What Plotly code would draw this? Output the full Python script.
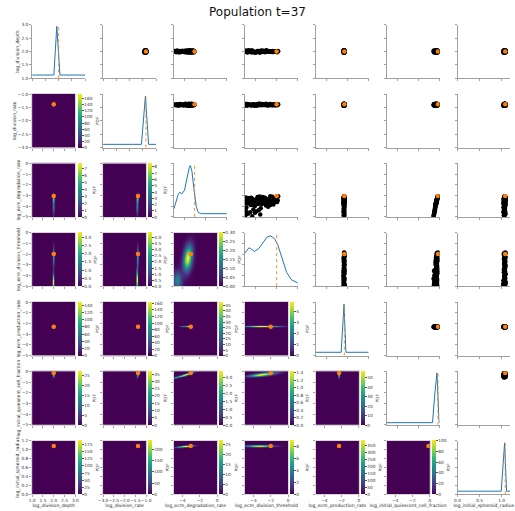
import numpy as np
import plotly.graph_objects as go

PARAMS = ["log_division_depth", "log_division_rate", "log_ecm_degradation_rate",
          "log_ecm_division_threshold", "log_ecm_production_rate",
          "log_initial_quiescent_cell_fraction", "log_initial_spheroid_radius"]
RANGES = [[1.0, 3.0], [-3.0, -1.0], [-5.0, 0.0], [-5.0, 0.0], [-5.0, 0.0], [-5.0, 0.0], [0.0, 1.2]]
TRUE_VALUES = [2.0, -1.38, -3.05, -2.0, -2.3, -0.15, 1.08]
X_TICKS = [[1.0, 1.5, 2.0, 2.5, 3.0], [-3.0, -2.5, -2.0, -1.5, -1.0], [-4, -2, 0], [-4, -2, 0],
           [-4, -2, 0], [-4, -2, 0], [0.0, 0.5, 1.0]]
Y_TICKS = [[1.0, 1.5, 2.0, 2.5, 3.0], [-3.0, -2.5, -2.0, -1.5, -1.0], [-5, -4, -3, -2, -1, 0],
           [-5, -4, -3, -2, -1, 0], [-5, -4, -3, -2, -1, 0], [-5, -4, -3, -2, -1, 0],
           [0.0, 0.2, 0.4, 0.6, 0.8, 1.0, 1.2]]
TICK_FMT = [".1f", ".1f", "d", "d", "d", "d", ".1f"]

# particles of the population (one entry per particle)
DEPTH = [2.01, 1.98, 2.03, 1.97, 2.0, 2.04, 1.99, 1.96, 2.02, 2.0, 1.98, 2.05, 2.01, 1.97, 2.03, 1.99, 2.0, 1.96, 2.02, 1.98,
         2.04, 2.0, 1.97, 2.01, 1.99, 2.03, 1.98, 2.0, 2.02, 1.96, 2.01, 1.99, 2.04, 1.97, 2.0, 2.02, 1.98, 2.01, 1.99, 2.03,
         1.99, 2.02, 1.97, 2.01, 2.03, 1.98, 2.0, 1.96, 2.02, 1.99, 2.04, 1.98, 2.01, 1.97, 2.0, 2.03, 1.99, 2.02, 1.98, 2.0,
         2.01, 1.97, 2.03, 1.99]
RATE = [-1.39, -1.42, -1.37, -1.41, -1.38, -1.43, -1.4, -1.36, -1.41, -1.39, -1.44, -1.38, -1.4, -1.42, -1.37, -1.41, -1.39, -1.43, -1.38, -1.4,
        -1.42, -1.36, -1.41, -1.39, -1.43, -1.4, -1.38, -1.42, -1.37, -1.41, -1.4, -1.44, -1.39, -1.38, -1.42, -1.4, -1.37, -1.41, -1.43, -1.39,
        -1.4, -1.38, -1.42, -1.39, -1.41, -1.37, -1.43, -1.4, -1.38, -1.41, -1.39, -1.42, -1.36, -1.4, -1.43, -1.38, -1.41, -1.39, -1.42, -1.4,
        -1.37, -1.41, -1.39, -1.38]
DEGRADATION = [-3.06, -3.12, -3.18, -3.22, -3.27, -3.31, -3.35, -3.38, -3.42, -3.46, -3.5, -3.53, -3.57, -3.6, -3.64, -3.68, -3.71, -3.75, -3.8, -3.84,
               -3.88, -3.93, -3.98, -4.05, -4.12, -4.2, -4.3, -4.38, -4.45, -4.5, -4.56, -4.62, -4.7, -4.78, -4.85, -4.93, -3.3, -3.45, -3.62, -3.15,
               -3.08, -3.14, -3.2, -3.25, -3.29, -3.33, -3.37, -3.41, -3.44, -3.48, -3.52, -3.55, -3.59, -3.63, -3.66, -3.7, -3.73, -3.77, -3.82, -3.86,
               -3.9, -3.1, -3.24, -3.4]
THRESHOLD = [-1.85, -2.4, -4.9, -3.1, -2.05, -4.3, -2.7, -3.6, -4.95, -2.2, -3.9, -2.95, -4.6, -1.95, -3.35, -4.15, -2.55, -4.75, -3.75, -2.3,
             -4.45, -3.0, -4.05, -2.8, -4.85, -3.5, -4.2, -3.7, -4.9, -3.95, -4.5, -4.05, -4.7, -3.55, -4.95, -4.3, -3.85, -4.5, -2.15, -3.3,
             -2.6, -3.8, -4.4, -2.25, -3.45, -4.8, -2.9, -4.1, -1.9, -3.2, -4.65, -2.45, -3.65, -4.35, -2.75, -3.05, -4.9, -2.35, -3.4, -4.25,
             -2.6, -3.6, -4.6, -2.05]
PRODUCTION = [-2.31, -2.35, -2.29, -2.34, -2.32, -2.37, -2.3, -2.33, -2.36, -2.28, -2.34, -2.31, -2.35, -2.3, -2.33, -2.37, -2.29, -2.32, -2.36, -2.31,
              -2.34, -2.3, -2.35, -2.33, -2.28, -2.36, -2.32, -2.34, -2.3, -2.37, -2.31, -2.35, -2.33, -2.29, -2.36, -2.32, -2.3, -2.34, -2.31, -2.35,
              -2.32, -2.3, -2.35, -2.33, -2.29, -2.36, -2.31, -2.34, -2.32, -2.3, -2.35, -2.33, -2.37, -2.31, -2.34, -2.32, -2.29, -2.36, -2.33, -2.31,
              -2.35, -2.3, -2.34, -2.32]
QUIESCENT = [-0.14, -0.18, -0.2, -0.22, -0.2, -0.25, -0.23, -0.27, -0.26, -0.24, -0.3, -0.28, -0.31, -0.27, -0.33, -0.32, -0.3, -0.36, -0.35, -0.33,
             -0.38, -0.37, -0.4, -0.39, -0.42, -0.43, -0.45, -0.44, -0.48, -0.47, -0.5, -0.49, -0.52, -0.53, -0.55, -0.57, -0.22, -0.29, -0.3, -0.19,
             -0.16, -0.19, -0.21, -0.2, -0.23, -0.25, -0.24, -0.27, -0.25, -0.28, -0.3, -0.28, -0.31, -0.32, -0.31, -0.33, -0.35, -0.34, -0.36, -0.37,
             -0.37, -0.17, -0.22, -0.26]
RADIUS = [1.08, 1.06, 1.07, 1.09, 1.05, 1.07, 1.08, 1.06, 1.04, 1.07, 1.09, 1.06, 1.08, 1.05, 1.07, 1.06, 1.08, 1.04, 1.07, 1.09,
          1.05, 1.07, 1.06, 1.08, 1.04, 1.07, 1.06, 1.05, 1.08, 1.07, 1.04, 1.06, 1.09, 1.07, 1.05, 1.06, 1.08, 1.07, 1.06, 1.08,
          1.07, 1.08, 1.06, 1.07, 1.05, 1.08, 1.06, 1.07, 1.09, 1.06, 1.07, 1.05, 1.08, 1.07, 1.06, 1.08, 1.05, 1.07, 1.06, 1.08,
          1.07, 1.06, 1.09, 1.07]
PARTICLES = [DEPTH, RATE, DEGRADATION, THRESHOLD, PRODUCTION, QUIESCENT, RADIUS]

# 1D marginal densities (relative height)
DIAG_X = [
    [1.0, 1.82, 1.93, 2.05, 3.0],
    [-3.0, -1.55, -1.40, -1.28, -1.0],
    [-5.0, -4.8, -4.6, -4.45, -4.25, -4.0, -3.75, -3.55, -3.45, -3.3, -3.1, -2.9, -2.7, -2.4, 0.0],
    [-5.0, -4.6, -4.3, -4.1, -3.7, -3.3, -2.9, -2.57, -2.2, -1.9, -1.5, -1.06, -0.6, -0.15, 0.0],
    [-5.0, -2.6, -2.33, -2.15, 0.0],
    [-5.0, -0.67, -0.46, -0.25, -0.06, 0.0],
    [0.0, 0.99, 1.067, 1.11, 1.2],
]
DIAG_Y = [
    [0.06, 0.06, 0.97, 0.06, 0.06],
    [0.06, 0.06, 0.96, 0.06, 0.06],
    [0.15, 0.3, 0.42, 0.46, 0.43, 0.5, 0.75, 0.93, 0.96, 0.85, 0.5, 0.2, 0.08, 0.06, 0.06],
    [0.62, 0.72, 0.68, 0.65, 0.7, 0.82, 0.92, 0.94, 0.89, 0.78, 0.52, 0.26, 0.12, 0.07, 0.06],
    [0.06, 0.06, 0.96, 0.06, 0.06],
    [0.04, 0.04, 0.56, 0.97, 0.09, 0.04],
    [0.055, 0.055, 0.96, 0.055, 0.055],
]

# 2D density panels: (row, col) -> gaussian blobs (cx, cy, sx, sy, rho, weight)
HM_CELLS = [(1, 0), (2, 0), (2, 1), (3, 0), (3, 1), (3, 2), (4, 0), (4, 1), (4, 2), (4, 3),
            (5, 0), (5, 1), (5, 2), (5, 3), (5, 4), (6, 0), (6, 1), (6, 2), (6, 3), (6, 4), (6, 5)]
HM_BLOBS = [
    [(1.99, -1.41, 0.03, 0.03, 0.0, 1.0)],
    [(1.99, -3.3, 0.025, 0.25, 0.0, 1.0), (1.99, -4.0, 0.03, 0.5, 0.0, 0.55)],
    [(-1.40, -3.3, 0.025, 0.25, 0.0, 1.0), (-1.42, -4.0, 0.03, 0.5, 0.0, 0.55)],
    [(1.99, -2.3, 0.025, 0.6, 0.0, 0.6), (1.98, -4.6, 0.025, 0.5, 0.0, 1.0)],
    [(-1.40, -2.3, 0.025, 0.6, 0.0, 0.7), (-1.43, -4.4, 0.025, 0.6, 0.0, 1.0)],
    [(-3.4, -2.4, 0.35, 0.8, 0.3, 1.0), (-4.6, -4.5, 0.35, 0.6, 0.0, 0.45)],
    [(1.99, -2.3, 0.03, 0.06, 0.0, 1.0)],
    [(-1.40, -2.3, 0.03, 0.06, 0.0, 1.0)],
    [(-3.3, -2.3, 0.2, 0.04, 0.0, 1.0), (-3.9, -2.3, 0.25, 0.04, 0.0, 0.4)],
    [(-3.0, -2.3, 1.3, 0.045, 0.0, 1.0)],
    [(1.99, -0.3, 0.025, 0.18, 0.0, 1.0)],
    [(-1.39, -0.3, 0.03, 0.18, 0.6, 1.0)],
    [(-3.6, -0.3, 0.5, 0.15, 0.9, 1.0), (-4.6, -0.55, 0.4, 0.12, 0.8, 0.5)],
    [(-3.0, -0.3, 1.0, 0.14, 0.7, 1.0)],
    [(-2.33, -0.3, 0.05, 0.2, 0.0, 1.0)],
    [(1.99, 1.075, 0.03, 0.015, 0.0, 1.0)],
    [(-1.40, 1.075, 0.03, 0.015, 0.0, 1.0)],
    [(-3.5, 1.07, 0.5, 0.015, 0.5, 1.0), (-4.3, 1.055, 0.4, 0.015, 0.5, 0.4)],
    [(-3.3, 1.075, 1.0, 0.015, 0.0, 1.0)],
    [(-2.33, 1.075, 0.04, 0.015, 0.0, 1.0)],
    [(-0.25, 1.075, 0.08, 0.015, 0.5, 1.0)],
]
HM_ZMAX = [175, 7.7, 8.6, 3.3, 4.4, 0.30, 150, 165, 48, 4.9, 27, 37, 3.4, 1.45, 57, 190, 240, 27, 9, 390, 100]
HM_DTICK = [20, 1, 1, 0.5, 0.5, 0.05, 20, 20, 5, 1, 5, 5, 0.5, 0.2, 10, 25, 50, 5, 2, 50, 20]

# ---------------- layout geometry (pixels) ----------------
W, H = 515, 511
N = 7
COL_L0, COL_STEP, PANEL_W, HEAT_W = 27.7, 72.3, 54.0, 44.0
ROW_T0, ROW_STEP, PANEL_H = 23.0, 70.0, 54.0
AX_COLOR = "#a0a0a0"
TICK_FONT = dict(family="DejaVu Sans", size=4.3, color="#333")
TITLE_FONT = dict(family="DejaVu Sans", size=4.6, color="#222")
BLUE, ORANGE = "#1f77b4", "#ff7f0e"

fig = go.Figure()
layout = {}


def aid(i, j):
    return i * N + j + 1


def name(prefix, k):
    return prefix if k == 1 else f"{prefix}{k}"


hm_lookup = {c: n for n, c in enumerate(HM_CELLS)}

for i in range(N):
    for j in range(N):
        k = aid(i, j)
        xa, ya = name("x", k), name("y", k)
        left = COL_L0 + COL_STEP * j
        is_heat = (i, j) in hm_lookup
        width = HEAT_W if is_heat else PANEL_W
        right = min(left + width, W)
        xr = list(RANGES[j])
        if left + width > W:
            xr[1] = xr[0] + (xr[1] - xr[0]) * (W - left) / width
        top = ROW_T0 + ROW_STEP * i
        dom_x = [left / W, right / W]
        dom_y = [1 - (top + PANEL_H) / H, 1 - top / H]

        xaxis = dict(domain=dom_x, anchor=ya, range=xr, tickvals=X_TICKS[j], tickformat=TICK_FMT[j],
                     showticklabels=(i == N - 1), ticks="outside", ticklen=2, tickwidth=0.8,
                     tickcolor=AX_COLOR, showline=True, linecolor=AX_COLOR, linewidth=1,
                     showgrid=False, zeroline=False, tickfont=TICK_FONT, tickangle=0)
        yaxis = dict(domain=dom_y, anchor=xa, range=RANGES[i], tickvals=Y_TICKS[i], tickformat=TICK_FMT[i],
                     showticklabels=(j == 0), ticks="outside", ticklen=2, tickwidth=0.8,
                     tickcolor=AX_COLOR, showline=True, linecolor=AX_COLOR, linewidth=1,
                     showgrid=False, zeroline=False, tickfont=TICK_FONT)
        if i == N - 1:
            xaxis["title"] = dict(text=PARAMS[j], font=TITLE_FONT, standoff=0)
        if j == 0:
            yaxis["title"] = dict(text=PARAMS[i], font=TITLE_FONT, standoff=1)
        if is_heat:
            xaxis.update(mirror=True, linecolor="#d8d8d8")
            yaxis.update(mirror=True, linecolor="#d8d8d8")

        if i == j:
            # density axis: relative height 0..1; labels of the parameter scale only on the first panel
            frac = [(v - RANGES[i][0]) / (RANGES[i][1] - RANGES[i][0]) for v in Y_TICKS[i]]
            yaxis.update(range=[0, 1.0], tickvals=frac,
                         ticktext=[format(v, TICK_FMT[i]).replace("-", "\u2212") for v in Y_TICKS[i]])
            yaxis.pop("tickformat")
            fig.add_trace(go.Scatter(x=DIAG_X[i], y=DIAG_Y[i], mode="lines",
                                     line=dict(color=BLUE, width=1), xaxis=xa, yaxis=ya,
                                     showlegend=False, hoverinfo="skip"))
            fig.add_trace(go.Scatter(x=[TRUE_VALUES[i], TRUE_VALUES[i]], y=[0, 1.0], mode="lines",
                                     line=dict(color=ORANGE, width=0.9, dash="dot"), xaxis=xa,
                                     yaxis=ya, showlegend=False, hoverinfo="skip"))
        elif j > i:
            fig.add_trace(go.Scatter(x=PARTICLES[j], y=PARTICLES[i], mode="markers",
                                     marker=dict(color="black", size=4.5), xaxis=xa, yaxis=ya,
                                     showlegend=False, hoverinfo="skip"))
            fig.add_trace(go.Scatter(x=[TRUE_VALUES[j]], y=[TRUE_VALUES[i]], mode="markers",
                                     marker=dict(color=ORANGE, size=4.5), xaxis=xa, yaxis=ya,
                                     showlegend=False, hoverinfo="skip"))
        else:
            n = hm_lookup[(i, j)]
            gx = np.linspace(RANGES[j][0], RANGES[j][1], 110)
            gy = np.linspace(RANGES[i][0], RANGES[i][1], 110)
            XX, YY = np.meshgrid(gx, gy)
            z = np.zeros_like(XX)
            for (cx, cy, sx, sy, rho, w) in HM_BLOBS[n]:
                dx = (XX - cx) / sx
                dy = (YY - cy) / sy
                q = (dx ** 2 - 2 * rho * dx * dy + dy ** 2) / (1 - rho ** 2)
                z += w * np.exp(-0.5 * q)
            z = z / z.max() * HM_ZMAX[n]
            dt = HM_DTICK[n]
            fmt = ".2f" if dt < 0.1 else (".1f" if dt < 1 else "d")
            fig.add_trace(go.Heatmap(
                x=gx, y=gy, z=z, colorscale="Viridis", zmin=0, zmax=HM_ZMAX[n],
                xaxis=xa, yaxis=ya, hoverinfo="skip",
                colorbar=dict(x=(left + 46.3) / W, xanchor="left", xref="paper",
                              y=1 - (top + PANEL_H / 2) / H, yanchor="middle", yref="paper",
                              len=PANEL_H, lenmode="pixels", thickness=3.5, thicknessmode="pixels",
                              outlinewidth=0, ticks="outside", ticklen=2, tickwidth=0.6,
                              tickcolor="#555", dtick=dt, tick0=0, tickformat=fmt,
                              tickfont=TICK_FONT, xpad=0, ypad=0,
                              title=dict(text="PDF", side="right", font=TICK_FONT))))
            fig.add_trace(go.Scatter(x=[TRUE_VALUES[j]], y=[TRUE_VALUES[i]], mode="markers",
                                     marker=dict(color=ORANGE, size=4.5), xaxis=xa, yaxis=ya,
                                     showlegend=False, hoverinfo="skip"))
        layout[name("xaxis", k)] = xaxis
        layout[name("yaxis", k)] = yaxis

fig.update_layout(**layout)
fig.update_layout(
    width=W, height=H, margin=dict(l=0, r=0, t=0, b=0),
    paper_bgcolor="white", plot_bgcolor="white", showlegend=False,
    font=dict(family="DejaVu Sans"),
    title=dict(text="Population t=37", x=0.5, xanchor="center", y=1 - 12 / H, yanchor="middle",
               font=dict(family="DejaVu Sans", size=12, color="#111")),
)
fig.write_html("out.html", config={"displayModeBar": False},
               post_script="document.body.style.margin='0px';document.body.style.overflow='hidden';")
